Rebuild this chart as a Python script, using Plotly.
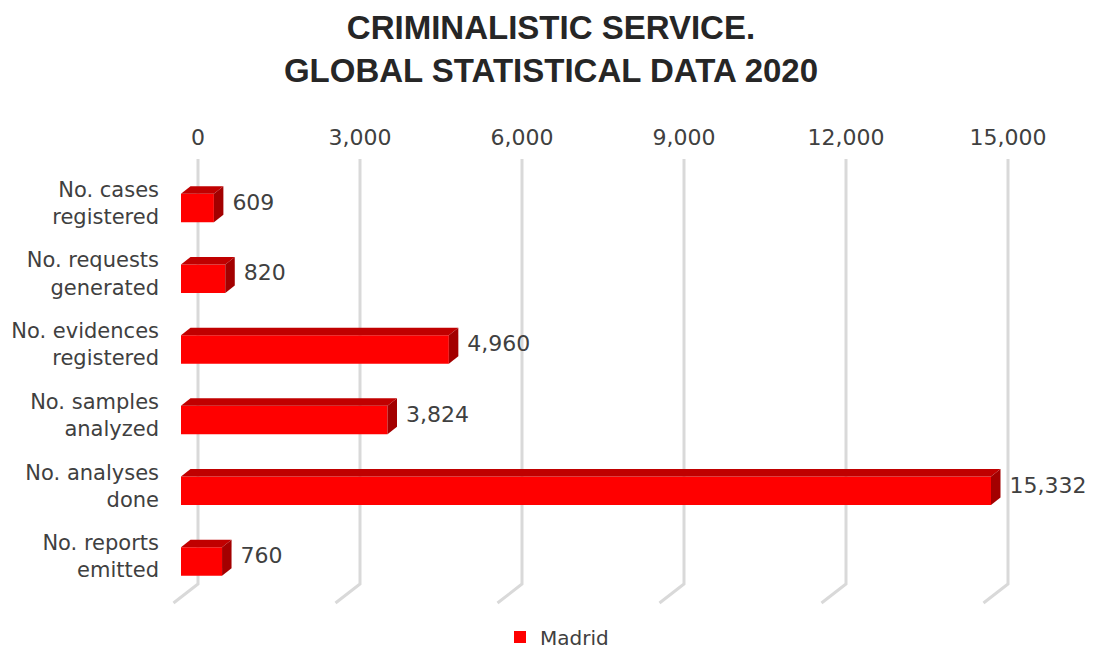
import plotly.graph_objects as go

# ---- data ----
categories = ["No. cases<br>registered", "No. requests<br>generated", "No. evidences<br>registered",
              "No. samples<br>analyzed", "No. analyses<br>done", "No. reports<br>emitted"]
values = [609, 820, 4960, 3824, 15332, 760]
series_name = "Madrid"
tick_values = [0, 3000, 6000, 9000, 12000, 15000]
tick_labels = ["0", "3,000", "6,000", "9,000", "12,000", "15,000"]

# ---- geometry (page pixel layout -> figure pixels -> data units) ----
PAGE_OFF = 8                      # default body margin of the html page
W, H = 1093 - PAGE_OFF, 650 - PAGE_OFF


def fx(px):
    return px - PAGE_OFF


L, R, T, B = fx(165), fx(1060), fx(150), fx(610)
PX_PER_UNIT = 0.054
ZERO_PX = fx(181)
XMIN = -(ZERO_PX - L) / PX_PER_UNIT
XMAX = XMIN + (R - L) / PX_PER_UNIT
AXIS_MAX = 15000
CAT_PX = 70.7
FIRST_PX = fx(208)
YTOP = (T - FIRST_PX) / CAT_PX
YBOT = (B - FIRST_PX) / CAT_PX

WALL_OFF = 17 / PX_PER_UNIT        # back wall offset in x units
DEPTH_X = 9.5 / PX_PER_UNIT        # bar depth
DEPTH_Y = -7.5 / CAT_PX
BAR_W = 28.5 / CAT_PX
FLOOR_DX = -24.5 / PX_PER_UNIT
GRID_TOP = (fx(159) - FIRST_PX) / CAT_PX
GRID_BOT = (fx(584) - FIRST_PX) / CAT_PX
FLOOR_Y = (fx(603) - FIRST_PX) / CAT_PX

FRONT = "#FF0000"
TOPC = "#C00000"
SIDEC = "#A30000"
TXT = "#404040"
BODY_FONT = "DejaVu Sans"

fig = go.Figure()

ypos = list(range(len(categories)))
shown = [min(v, AXIS_MAX) for v in values]

fig.add_trace(go.Bar(
    x=shown, y=ypos, orientation="h", width=BAR_W, base=0,
    marker=dict(color=FRONT, line=dict(width=0)), name=series_name,
    showlegend=True, hoverinfo="skip"))

for yi, v in zip(ypos, shown):
    yt = yi - BAR_W / 2
    yb = yi + BAR_W / 2
    fig.add_trace(go.Scatter(
        x=[0, v, v + DEPTH_X, DEPTH_X, 0], y=[yt, yt, yt + DEPTH_Y, yt + DEPTH_Y, yt],
        fill="toself", fillcolor=TOPC, mode="lines", line=dict(width=0, color=TOPC),
        showlegend=False, hoverinfo="skip"))
    fig.add_trace(go.Scatter(
        x=[v, v, v + DEPTH_X, v + DEPTH_X, v], y=[yt, yb, yb + DEPTH_Y, yt + DEPTH_Y, yt],
        fill="toself", fillcolor=SIDEC, mode="lines", line=dict(width=0, color=SIDEC),
        showlegend=False, hoverinfo="skip"))

fig.add_trace(go.Scatter(
    x=[v + DEPTH_X + 9 / PX_PER_UNIT for v in shown],
    y=[yi + DEPTH_Y / 2 for yi in ypos],
    text=[f"{v:,}" for v in values], mode="text", textposition="middle right",
    textfont=dict(family=BODY_FONT, size=22, color=TXT),
    showlegend=False, hoverinfo="skip", cliponaxis=False))

# dummy trace to activate the top axis
fig.add_trace(go.Scatter(x=[tick_values[0]], y=[0], xaxis="x2", mode="markers",
                         marker=dict(opacity=0), showlegend=False, hoverinfo="skip"))

# back-wall gridlines with floor segments
for tv in tick_values:
    fig.add_shape(type="path", xref="x2", yref="y",
                  path=f"M {tv},{GRID_TOP} L {tv},{GRID_BOT} L {tv + FLOOR_DX},{FLOOR_Y}",
                  line=dict(color="#D9D9D9", width=3), layer="below")

fig.update_layout(
    width=W, height=H,
    margin=dict(l=L, r=W - R, t=T, b=H - B, autoexpand=False),
    paper_bgcolor="white", plot_bgcolor="white",
    title=dict(text="CRIMINALISTIC SERVICE.<br>GLOBAL STATISTICAL DATA 2020",
               font=dict(family="Liberation Sans", size=33, color="#262626", weight="bold"),
               x=(551 - PAGE_OFF) / W, xref="container", xanchor="center",
               y=1 - 31.0 / H, yref="container", yanchor="top"),
    xaxis=dict(range=[XMIN, XMAX], visible=False, showgrid=False, zeroline=False,
               automargin=False),
    xaxis2=dict(range=[XMIN - WALL_OFF, XMAX - WALL_OFF], overlaying="x", side="top",
                tickvals=tick_values, ticktext=tick_labels, showgrid=False, zeroline=False,
                showline=False, ticks="", automargin=False,
                tickfont=dict(family=BODY_FONT, size=22, color=TXT)),
    yaxis=dict(range=[YBOT, YTOP], tickvals=ypos, ticktext=categories, showgrid=False,
               zeroline=False, showline=False, ticks="", automargin=False,
               ticklabelstandoff=5, ticklabelshift=5,
               tickfont=dict(family=BODY_FONT, size=21, color=TXT)),
    legend=dict(orientation="h", x=(fx(500) - L) / (R - L), xanchor="left",
                y=(B - fx(637)) / (B - T), yanchor="middle",
                font=dict(family=BODY_FONT, size=20, color=TXT)),
    showlegend=True,
)

fig.write_html("out.html")
